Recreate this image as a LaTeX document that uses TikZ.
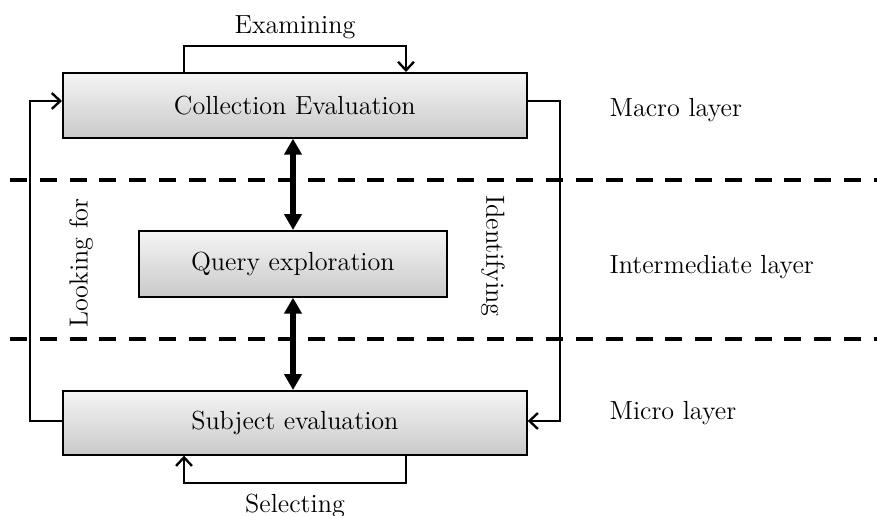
\documentclass[tikz,border=0pt]{standalone}
\usetikzlibrary{arrows.meta,positioning}
\begin{document}
\begin{tikzpicture}[x=0.47pt,y=-0.47pt,
  font=\fontsize{12.3pt}{14.5pt}\selectfont,
  procbox/.style={draw=black,line width=0.8pt,top color=gray!8,bottom color=gray!42,inner sep=0pt,anchor=north west},
  flow/.style={line width=1pt,-{Straight Barb[length=4pt,width=7.5pt,line width=1.1pt]}},
  link/.style={line width=2.4pt,{Stealth[length=7.5pt,width=8pt,inset=0pt]}-{Stealth[length=7.5pt,width=8pt,inset=0pt]}},
  sep/.style={line width=1.6pt,dash pattern=on 8pt off 6pt},
  lbl/.style={}]
\useasboundingbox (0,0) rectangle (877,516);
% process boxes
\node[procbox,minimum width=464*0.47pt,minimum height=65*0.47pt] (coll) at (62,72) {};
\node at (coll.center) {Collection Evaluation};
\node[procbox,minimum width=308*0.47pt,minimum height=66*0.47pt] (query) at (138,230) {};
\node at (query.center) {Query exploration};
\node[procbox,minimum width=464*0.47pt,minimum height=64*0.47pt] (subj) at (62,390) {};
\node at (subj.center) {Subject evaluation};
% layer separators
\coordinate (s1a) at (10,180); \coordinate (s1b) at (877,180);
\coordinate (s2a) at (10,339); \coordinate (s2b) at (877,339);
\draw[sep] (s1a) -- (s1b);
\draw[sep] (s2a) -- (s2b);
% vertical links between layers
\draw[link] (coll.south -| 293,0) -- (query.north -| 293,0);
\draw[link] (query.south -| 293,0) -- (subj.north -| 293,0);
% self loops
\draw[flow] ([xshift=122*0.47pt]coll.north west) -- ++(0,-26) -| ([xshift=344*0.47pt]coll.north west);
\node[lbl] (exam) at (295,27) {Examining};
\draw[flow] ([xshift=344*0.47pt]subj.south west) -- ++(0,27) -| ([xshift=122*0.47pt]subj.south west);
\node[lbl] (sel) at (295,506) {Selecting};
% outer feedback paths
\draw[flow] (subj.west |- 0,421) -- (30,421) |- (coll.west |- 0,101);
\draw[flow] (coll.east |- 0,101) -- (560,101) |- (subj.east |- 0,421);
\node[lbl,rotate=90] (look) at (81,263) {Looking for};
\node[lbl,rotate=-90] (ident) at (493,256) {Identifying};
% layer names
\node[lbl,anchor=west] (macro) at (602,110) {Macro layer};
\node[lbl,anchor=west] (inter) at (602,267) {Intermediate layer};
\node[lbl,anchor=west] (micro) at (602,413) {Micro layer};
\end{tikzpicture}
\end{document}
